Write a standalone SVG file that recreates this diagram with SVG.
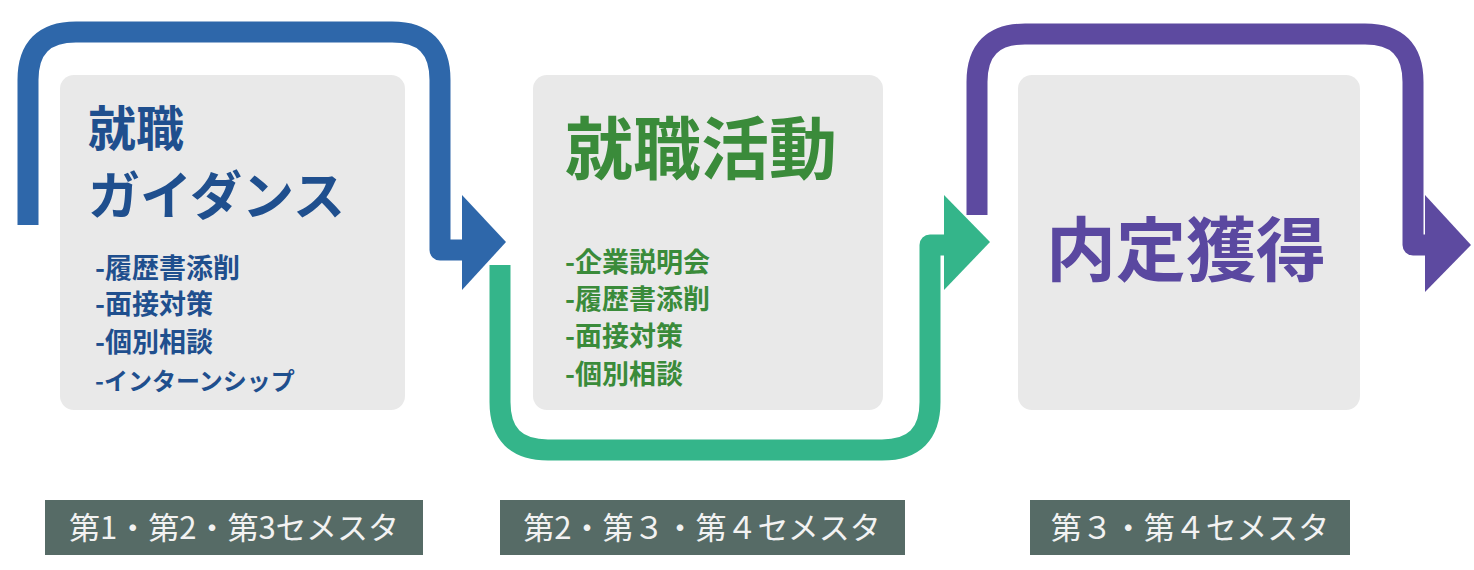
<svg xmlns="http://www.w3.org/2000/svg" width="1474" height="570" viewBox="0 0 1474 570">
<style>
.flow{fill:none;stroke-width:21;stroke-linejoin:round}
.box{fill:#e9e9e9}
.lab{fill:#566b66}
.lt{font-family:"Noto Sans CJK JP","Noto Sans",sans-serif;font-size:31px;fill:#f2f2f2}
.t{font-family:"Noto Sans CJK JP","Noto Sans",sans-serif;font-weight:bold}
</style>
<rect width="1474" height="570" fill="#ffffff"/>
<g id="connectors">
<path class="flow" stroke="#2e67aa" d="M28,225 V80 Q28,32 76,32 H392 Q440,32 440,80 V250 H468"/>
<polygon fill="#2e67aa" points="462,195 506,242 462,290"/>
<path class="flow" stroke="#34b58a" d="M500,265 V402 Q500,450 548,450 H882 Q930,450 930,402 V245 H950"/>
<polygon fill="#34b58a" points="944,195 990,242 944,290"/>
<path class="flow" stroke="#5d4aa0" d="M977,215 V82 Q977,34 1025,34 H1365 Q1413,34 1413,82 V245 H1430"/>
<polygon fill="#5d4aa0" points="1425,195 1471,245 1425,292"/>
</g>
<g id="node1">
<rect class="box" x="60" y="75" width="345" height="335" rx="14"/>
<text class="t" x="88" y="146" font-size="48" fill="#1f4f8e">就職</text>
<text class="t" x="88" y="215" font-size="52" fill="#1f4f8e">ガイダンス</text>
<text class="t" x="95" y="278" font-size="27" fill="#1f4f8e">-履歴書添削</text>
<text class="t" x="95" y="314" font-size="27" fill="#1f4f8e">-面接対策</text>
<text class="t" x="95" y="352" font-size="27" fill="#1f4f8e">-個別相談</text>
<text class="t" x="95" y="390" font-size="24" fill="#1f4f8e">-インターンシップ</text>
</g>
<g id="node2">
<rect class="box" x="533" y="75" width="350" height="335" rx="14"/>
<text class="t" x="565" y="174" font-size="68" fill="#3a8b3a">就職活動</text>
<text class="t" x="565" y="272" font-size="27" fill="#3a8b3a">-企業説明会</text>
<text class="t" x="565" y="309" font-size="27" fill="#3a8b3a">-履歴書添削</text>
<text class="t" x="565" y="346" font-size="27" fill="#3a8b3a">-面接対策</text>
<text class="t" x="565" y="384" font-size="27" fill="#3a8b3a">-個別相談</text>
</g>
<g id="node3">
<rect class="box" x="1018" y="75" width="342" height="335" rx="14"/>
<text class="t" x="1186" y="276" font-size="70" fill="#5a48a0" text-anchor="middle">内定獲得</text>
</g>
<g id="label1">
<rect class="lab" x="45" y="500" width="378" height="55"/>
<text class="lt" x="234" y="539" text-anchor="middle">第1・第2・第3セメスタ</text>
</g>
<g id="label2">
<rect class="lab" x="500" y="500" width="405" height="55"/>
<text class="lt" x="702" y="539" text-anchor="middle">第2・第３・第４セメスタ</text>
</g>
<g id="label3">
<rect class="lab" x="1030" y="500" width="320" height="55"/>
<text class="lt" x="1190" y="539" text-anchor="middle">第３・第４セメスタ</text>
</g>
</svg>
